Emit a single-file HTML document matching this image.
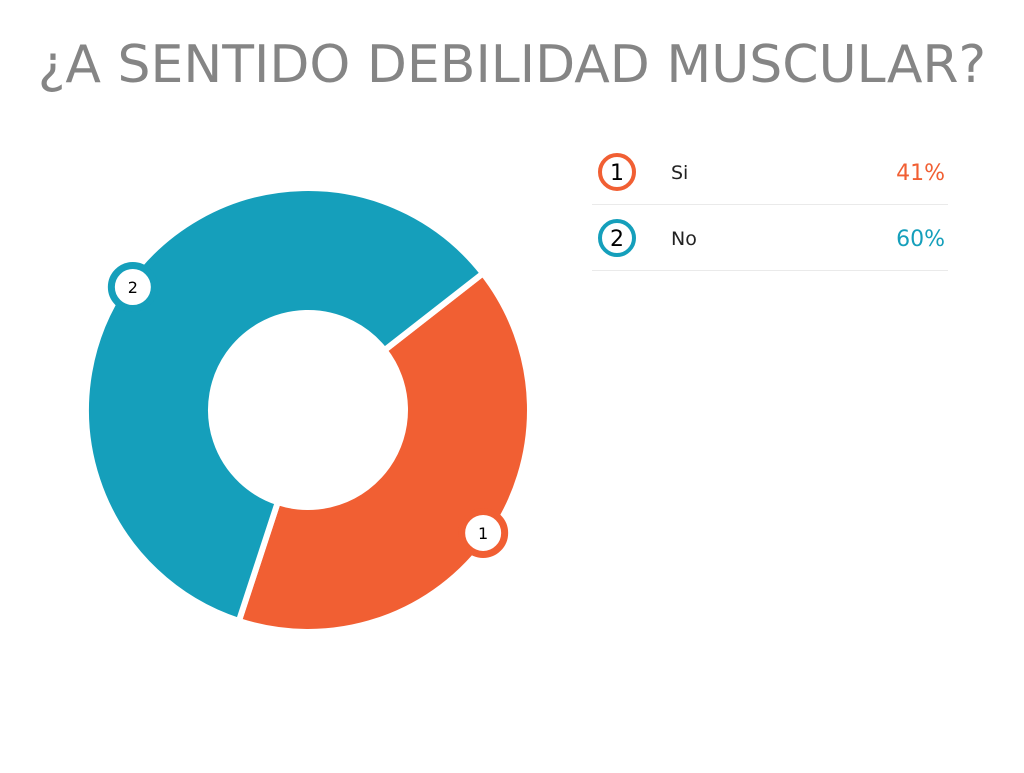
<!DOCTYPE html>
<html><head><meta charset="utf-8"><style>
body{margin:0;width:1024px;height:768px;background:#fff;font-family:"Liberation Sans","DejaVu Sans",sans-serif;overflow:hidden}
</style></head><body>
<svg width="1024" height="768">
<text x="512" y="82" text-anchor="middle" font-family="DejaVu Sans, Liberation Sans, sans-serif" font-size="52" fill="#858585">¿A SENTIDO DEBILIDAD MUSCULAR?</text>
<g id="pie"></g>
<g id="legend"></g>
</svg>
<script>
const categories = ["Si", "No"];
const values = [41, 60];
const labels = ["41%", "60%"];
const colors = ["#F15F33", "#159FBB"];
const NS = "http://www.w3.org/2000/svg";
const cx = 308, cy = 410, R = 222, r0 = 97, startDeg = 52;
const total = values.reduce((a, b) => a + b, 0);
const pie = document.getElementById('pie');
const legend = document.getElementById('legend');
function pt(a, rad) { const t = a * Math.PI / 180; return [cx + rad * Math.sin(t), cy - rad * Math.cos(t)]; }
let a = startDeg;
const markers = [];
values.forEach((v, i) => {
  const sweep = v / total * 360, a2 = a + sweep, large = sweep > 180 ? 1 : 0;
  const p1 = pt(a, R), p2 = pt(a2, R), p3 = pt(a2, r0), p4 = pt(a, r0);
  const path = document.createElementNS(NS, 'path');
  path.setAttribute('d', `M${p1[0]},${p1[1]} A${R},${R} 0 ${large} 1 ${p2[0]},${p2[1]} L${p3[0]},${p3[1]} A${r0},${r0} 0 ${large} 0 ${p4[0]},${p4[1]} Z`);
  path.setAttribute('fill', colors[i]);
  path.setAttribute('stroke', '#fff');
  path.setAttribute('stroke-width', '6');
  
  
  pie.appendChild(path);
  markers.push([pt(a + sweep / 2, 214), i]);
  a = a2;
});
markers.forEach(([m, i]) => {
  const g = document.createElementNS(NS, 'g');
  
  
  const c = document.createElementNS(NS, 'circle');
  c.setAttribute('cx', m[0]); c.setAttribute('cy', m[1]); c.setAttribute('r', 21.5);
  c.setAttribute('fill', '#fff'); c.setAttribute('stroke', colors[i]); c.setAttribute('stroke-width', 7);
  g.appendChild(c);
  const t = document.createElementNS(NS, 'text');
  t.setAttribute('x', m[0]); t.setAttribute('y', m[1] + 6);
  t.setAttribute('text-anchor', 'middle'); t.setAttribute('font-size', '16'); t.setAttribute('fill', '#000');
  t.setAttribute('font-family', 'DejaVu Sans, sans-serif');
  t.textContent = i + 1;
  g.appendChild(t);
  pie.appendChild(g);
});
categories.forEach((cat, i) => {
  const y = 172 + i * 66;
  const g = document.createElementNS(NS, 'g');
  
  
  g.innerHTML = `<circle cx="617" cy="${y}" r="17" fill="#fff" stroke="${colors[i]}" stroke-width="4"/>
<text x="617" y="${y + 8}" text-anchor="middle" font-size="22" font-family="DejaVu Sans, sans-serif" fill="#000">${i + 1}</text>
<text x="671" y="${y + 7}" font-size="19" font-family="DejaVu Sans, sans-serif" fill="#222">${cat}</text>
<text x="945" y="${y + 8}" text-anchor="end" font-size="22" font-family="DejaVu Sans, sans-serif" fill="${colors[i]}">${labels[i]}</text>
<line x1="592" x2="948" y1="${y + 32.5}" y2="${y + 32.5}" stroke="#eaeaea" stroke-width="1"/>`;
  legend.appendChild(g);
});
</script>
</body></html>
